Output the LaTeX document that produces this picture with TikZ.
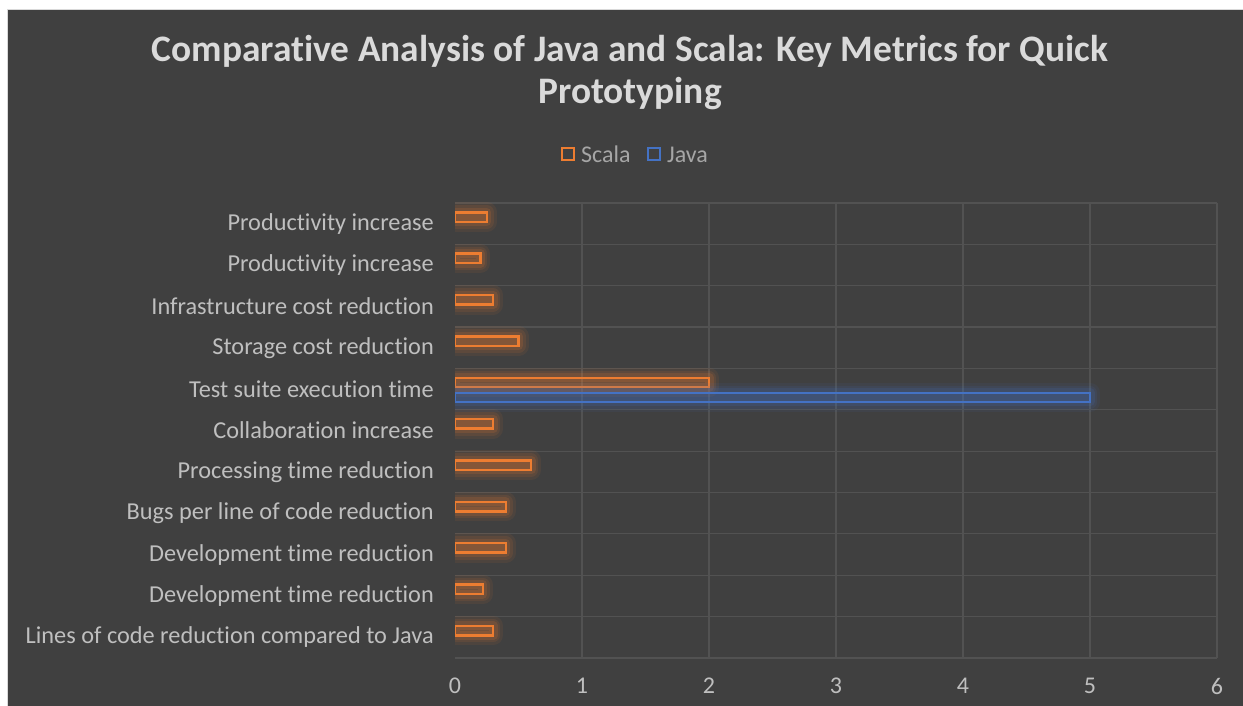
\documentclass[tikz,border=0pt]{standalone}
\usepackage{fontspec}
\setmainfont{Carlito}[RawFeature=-liga,RawFeature=-calt,RawFeature=-clig]
\usetikzlibrary{positioning}
\usetikzlibrary{calc}

\definecolor{bgdark}{HTML}{404040}
\definecolor{framegray}{HTML}{D9D9D9}
\definecolor{gridgray}{HTML}{525252}
\definecolor{titlegray}{HTML}{DADADA}
\definecolor{labelgray}{HTML}{BFBFBF}
\definecolor{leggray}{HTML}{A6A6A6}
\definecolor{scalaorange}{HTML}{ED7D31}
\definecolor{javablue}{HTML}{4472C4}

\tikzset{
  catlabel/.style={anchor=east,inner sep=0pt,text=labelgray,font=\fontsize{24.3}{28}\selectfont},
  ticklabel/.style={inner sep=0pt,text=labelgray,font=\fontsize{24}{28}\selectfont},
  legtext/.style={inner sep=0pt,text=leggray,font=\fontsize{24}{28}\selectfont},
  legkey/.style={draw,line width=2,minimum width=12,minimum height=12,inner sep=0pt},
  titletext/.style={inner sep=0pt,text=titlegray,font=\fontsize{37.4}{42}\selectfont\bfseries},
  gridline/.style={gridgray,line width=1.2},
  glowline/.style={line join=round},
  scalabar/.style={draw=scalaorange,line width=2.4,fill=scalaorange,fill opacity=0.15},
  javabar/.style={draw=javablue,line width=2.4,fill=javablue,fill opacity=0.15}
}

\begin{document}
\begin{tikzpicture}[x=1pt,y=-1pt]
	\useasboundingbox (0,0) rectangle (1243,706);
	\fill[white] (0,0) rectangle (1243,706);
	\draw[fill=bgdark,draw=framegray,line width=1.5] (7.5,9.5) rectangle (1260,720);

	\node[titletext] (title1) at (630,51) {Comparative Analysis of Java and Scala: Key Metrics for Quick};
	\node[titletext] (title2) at (630,94) {Prototyping};

	\node[legkey,draw=scalaorange] (keyscala) at (568,154.5) {};
	\node[legtext,right=6pt of keyscala] (legscala) {Scala};
	\node[legkey,draw=javablue] (keyjava) at (654,154.5) {};
	\node[legtext,right=6pt of keyjava] (legjava) {Java};

	\foreach \i in {0,...,11}
		\draw[gridline] (455,{203+\i*41.36}) -- (1217,{203+\i*41.36});
	\foreach \k in {1,...,6}
		\draw[gridline] ({455+127*\k},203) -- ({455+127*\k},658);

	\foreach \k in {0,...,6}
		\node[ticklabel] (tick\k) at ({455+127*\k},686) {\k};

	\foreach \i/\txt in {1/Productivity increase,2/Productivity increase,3/Infrastructure cost reduction,4/Storage cost reduction,5/Test suite execution time,6/Collaboration increase,7/Processing time reduction,8/Bugs per line of code reduction,9/Development time reduction,10/Development time reduction,11/Lines of code reduction compared to Java}
		\node[catlabel] (cat\i) at (434,{203+(\i-0.5)*41.36}) {\txt};

	\begin{scope}
	\clip (455,190) rectangle (1243,670);
	\foreach \i/\v in {1/0.25,2/0.2,3/0.3,4/0.5,5/2,6/0.3,7/0.6,8/0.4,9/0.4,10/0.22,11/0.3}{
		\pgfmathsetmacro\yt{203+(\i-1)*41.36+9.3}
		\foreach \w/\o in {20/0.08,14/0.1,9/0.15}
			\draw[glowline,scalaorange,line width=\w,opacity=\o] (455,\yt) rectangle ({455+127*\v},{\yt+9.5});
		\draw[scalabar] (455,\yt) rectangle ({455+127*\v},{\yt+9.5});
	}
	\pgfmathsetmacro\yj{203+4*41.36+24.3}
	\foreach \w/\o in {20/0.08,14/0.1,9/0.15}
		\draw[glowline,javablue,line width=\w,opacity=\o] (455,\yj) rectangle (1090,{\yj+9});
	\draw[javabar] (455,\yj) rectangle (1090,{\yj+9});
	\end{scope}
\end{tikzpicture}
\end{document}
